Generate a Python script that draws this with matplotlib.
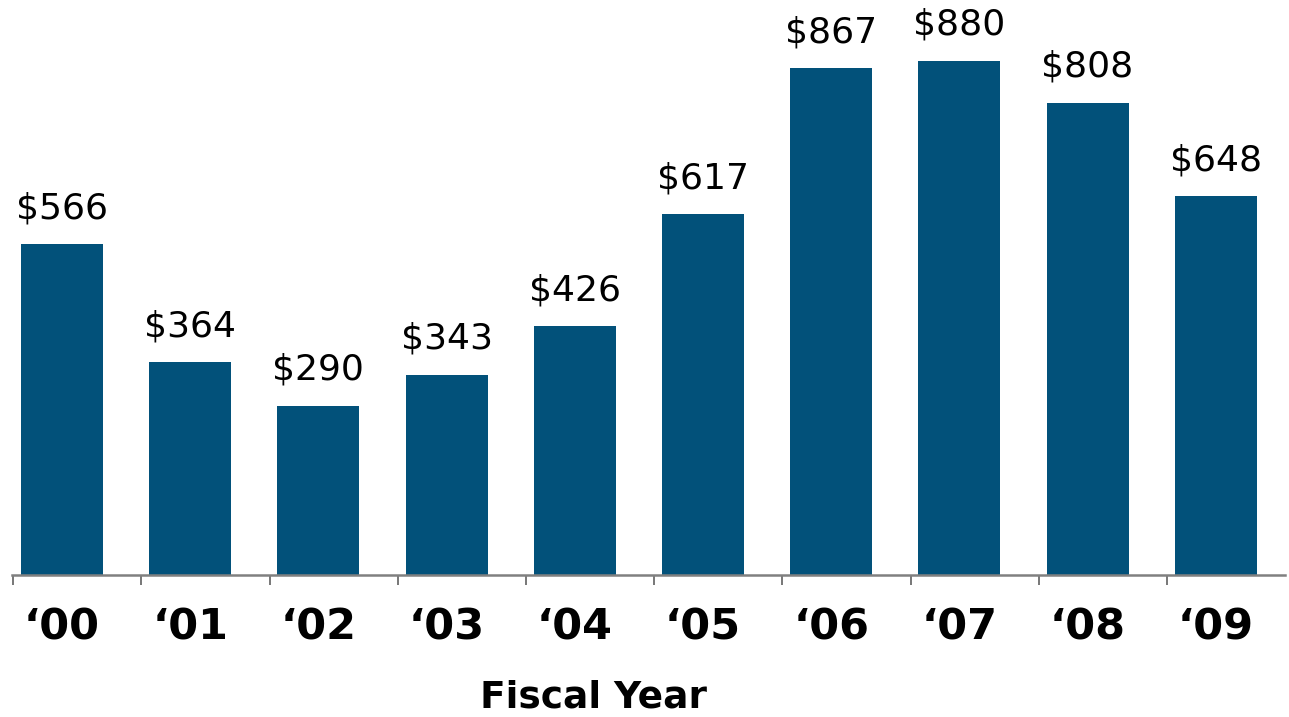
import numpy as np
import matplotlib
matplotlib.use("Agg")
import matplotlib.pyplot as plt

years = ["\u201800", "\u201801", "\u201802", "\u201803", "\u201804",
         "\u201805", "\u201806", "\u201807", "\u201808", "\u201809"]
values = [566, 364, 290, 343, 426, 617, 867, 880, 808, 648]

BAR_COLOR = "#02517A"
AXIS_COLOR = "#808080"

fig = plt.figure(figsize=(12.89, 7.17), dpi=100)
ax = fig.add_axes([12 / 1289, 142 / 717, 1273 / 1289, 575 / 717])

x = np.arange(len(years))
bars = ax.bar(x, values, width=0.64, color=BAR_COLOR, zorder=2)

for xi, v in zip(x, values):
    ax.text(xi, v + 36 / 0.584, f"${v}", ha="center", va="center",
            fontsize=26, color="black", family="DejaVu Sans")

ax.set_xlim(-0.39, 9.54)
ax.set_ylim(0, 984)

for s in ["top", "right", "left"]:
    ax.spines[s].set_visible(False)
ax.spines["bottom"].set_color(AXIS_COLOR)
ax.spines["bottom"].set_linewidth(1.8)
ax.spines["bottom"].set_zorder(3)

ax.set_yticks([])
# category divider ticks sit between the bars
ax.set_xticks(np.arange(-1, 9) + 0.62)
ax.set_xticklabels([])
ax.tick_params(axis="x", direction="out", length=7, width=1.2, color="#606060")

for xi, lab in zip(x, years):
    ax.text(xi, -52 / 0.584, lab, ha="center", va="center",
            fontsize=31, fontweight="bold", color="black")

fig.text(593 / 1289, 1 - 698 / 717, "Fiscal Year", ha="center", va="center",
         fontsize=27, fontweight="bold", color="black")

fig.savefig("out.png", dpi=100)
